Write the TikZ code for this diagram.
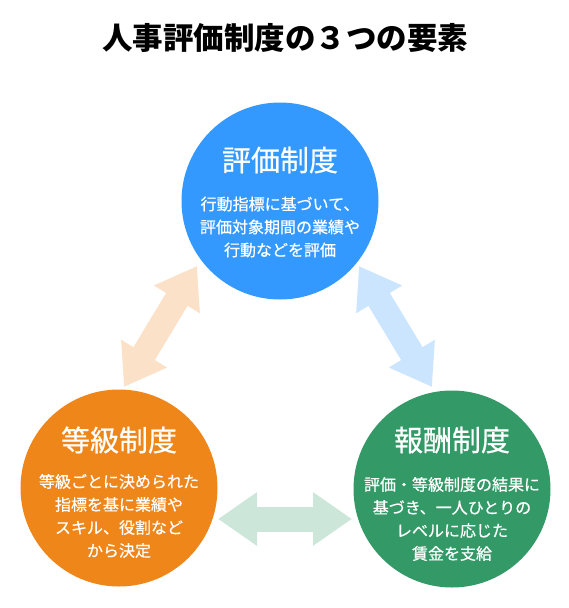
\documentclass[tikz,border=0pt]{standalone}
\usepackage{fontspec}
\setmainfont{Noto Sans CJK JP}
\newfontfamily\medfont[FakeBold=0.6]{Noto Sans CJK JP}
\usetikzlibrary{arrows.meta,positioning,calc}
\definecolor{hyokaBlue}{HTML}{3399FF}
\definecolor{tokyuOrange}{HTML}{EE861A}
\definecolor{hoshuGreen}{HTML}{339966}
\definecolor{linkPeach}{HTML}{FBE1C7}
\definecolor{linkBlue}{HTML}{CCE5FF}
\definecolor{linkGreen}{HTML}{CCE6DA}

\begin{document}
\begin{tikzpicture}[x=1pt,y=-1pt,line join=miter,
    ring/.style={circle,minimum size=197pt,inner sep=0pt},
    head/.style={text=white,font=\medfont\fontsize{29}{29}\selectfont},
    body/.style={text=white,align=center,font=\medfont\fontsize{16}{23}\selectfont},
    link/.style={line width=25pt,{Triangle[length=39pt,width=51pt]}-{Triangle[length=39pt,width=51pt]}}]
  \useasboundingbox (0,0) rectangle (569,608);
  \node[font=\bfseries\fontsize{30.5}{31}\selectfont] (title) at (285,38) {人事評価制度の３つの要素};
  % the three circles
  \node[ring,fill=hyokaBlue] (hyoka) at (280,201) {};
  \node[ring,fill=tokyuOrange] (tokyu) at (119,488) {};
  \node[ring,fill=hoshuGreen] (hoshu) at (452,489) {};
  \node[head] (hyokaT) at (280,160) {評価制度};
  \node[head] (tokyuT) at (119,440) {等級制度};
  \node[head] (hoshuT) at (452,440) {報酬制度};
  \node[body] (hyokaB) at (280,227) {行動指標に基づいて、\\評価対象期間の業績や\\行動などを評価};
  \node[body] (tokyuB) at (119,516) {等級ごとに決められた\\指標を基に業績や\\スキル、役割など\\から決定};
  \node[body] (hoshuB) at (452,519) {評価・等級制度の結果に\\基づき、一人ひとりの\\レベルに応じた\\賃金を支給};
  % arrow ends
  \coordinate (hyokaL) at (197,266);\coordinate (tokyuU) at (124,387);
  \coordinate (hyokaR) at (359,266);\coordinate (hoshuU) at (432,387);
  \coordinate (tokyuR) at (218,519);\coordinate (hoshuL) at (352,519);
  \draw[link,draw=linkPeach] (tokyuU) -- (hyokaL);
  \draw[link,draw=linkBlue] (hyokaR) -- (hoshuU);
  \draw[link,draw=linkGreen] (tokyuR) -- (hoshuL);
\end{tikzpicture}
\end{document}
